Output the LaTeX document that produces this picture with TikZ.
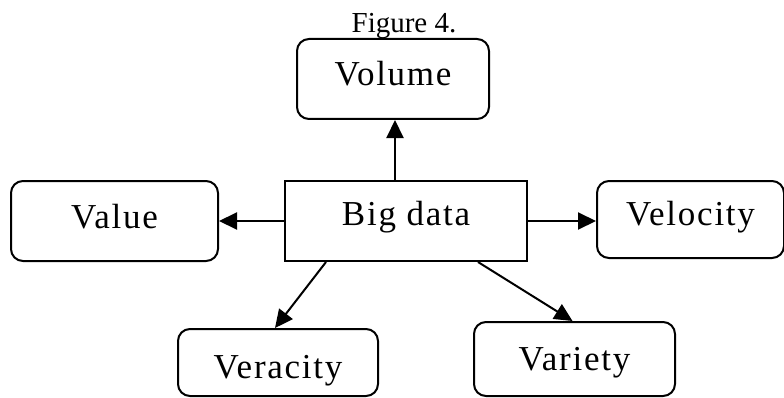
\documentclass[tikz,border=0pt]{standalone}
\usepackage{fontspec}
\setmainfont{Liberation Serif}
\newfontfamily\boxfont[LetterSpace=5]{Liberation Serif}
\usetikzlibrary{arrows.meta, positioning, calc}
\tikzset{
  vbox/.style={
    rectangle, rounded corners=12pt, draw=black, line width=2pt,
    align=center, minimum height=80pt, minimum width=#1,
    text height=24pt, font=\boxfont\fontsize{35}{40}\selectfont
  },
  centerbox/.style={
    rectangle, draw=black, line width=2pt,
    align=center, minimum height=80pt, minimum width=242pt,
    text height=24pt, font=\boxfont\fontsize{35}{40}\selectfont
  },
  arrow/.style={-{Triangle[length=18pt,width=17pt]}, line width=2pt}
}
\begin{document}
\begin{tikzpicture}[x=1pt, y=1pt, node distance=60pt and 65pt]
    \useasboundingbox (0,0) rectangle (784,397);

    % Title
    \node[font=\fontsize{29}{32}\selectfont, anchor=base] (title)
      at (404,364) {Figure 4.};

    % Centre
    \node[centerbox, text depth=16pt] (big) at (406,176) {Big data};

    % The five Vs
    \node[vbox=192pt, text depth=11pt, above=60pt of big,
          xshift=-13pt] (volume) {Volume};
    \node[vbox=207pt, text depth=10pt, left=65pt of big] (value) {Value};
    \node[vbox=187pt, minimum height=77pt, text depth=13pt,
          right=68pt of big, yshift=1.5pt] (velocity) {Velocity};
    \node[vbox=200pt, minimum height=67pt, text height=38pt,
          text depth=7pt] (veracity) at (278,34.5) {Veracity};
    \node[vbox=201pt, minimum height=74pt, text height=30pt,
          text depth=7pt] (variety) at (574.5,38) {Variety};

    % Arrows
    \draw[arrow] (big.north -| volume.south) ++(2pt,0) coordinate (vs)
      -- (vs |- volume.south);
    \draw[arrow] (big.west) -- (value.east);
    \draw[arrow] (big.east) -- (big.east -| velocity.west);
    \draw[arrow] ($(big.south west)+(42,0)$) -- ($(veracity.north)+(-3,0)$);
    \draw[arrow] ($(big.south east)+(-50,0)$) -- ($(variety.north)+(-2,0)$);
  \end{tikzpicture}
\end{document}
